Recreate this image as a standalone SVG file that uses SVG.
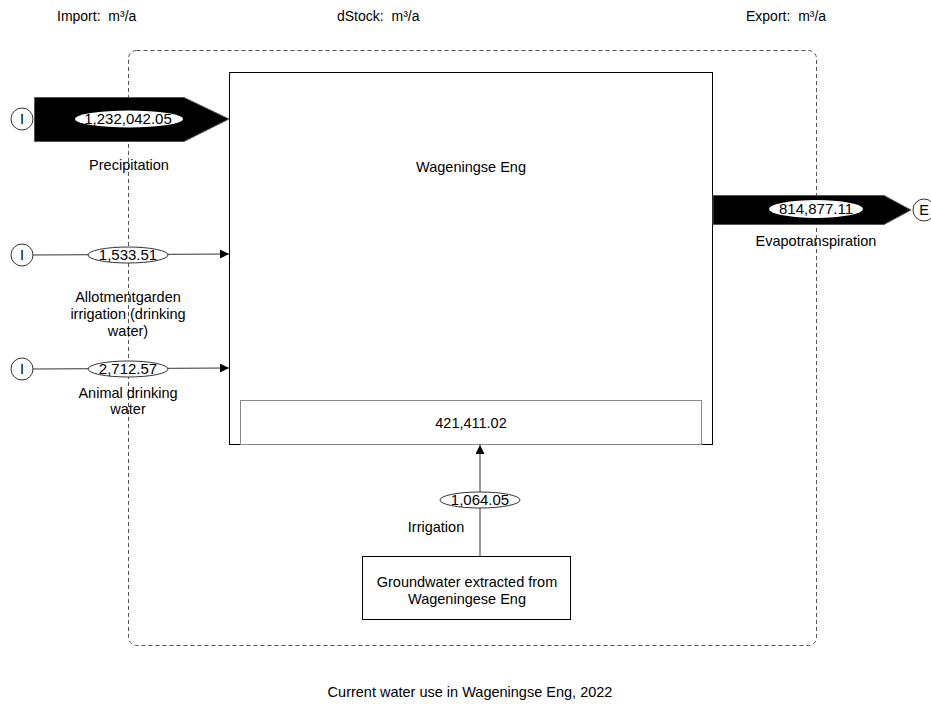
<svg xmlns="http://www.w3.org/2000/svg" width="931" height="707" viewBox="0 0 931 707">
<style>
text{font-family:"Liberation Sans",Arial,sans-serif;font-size:14.5px;fill:#000}
.c{text-anchor:middle}
.h{font-size:14px}
.n{font-size:15px}
.node{fill:#fff;stroke:#000;stroke-width:1}
.src{fill:#fff;stroke:#333;stroke-width:1}
.lbl{fill:#fff;stroke:#333;stroke-width:1}
.ln{stroke:#333;stroke-width:1;fill:none}
.big{fill:#000;stroke:#555;stroke-width:1}
</style>
<defs>
<marker id="ah" viewBox="0 0 10 10" refX="10" refY="5" markerWidth="9" markerHeight="9" markerUnits="userSpaceOnUse" orient="auto">
<path d="M0,0 L10,5 L0,10 z" fill="#000"/>
</marker>
</defs>
<rect width="931" height="707" fill="#fff"/>
<g id="headers">
<text class="h" x="57" y="21">Import:&#160; m³/a</text>
<text class="h" x="337" y="21">dStock:&#160; m³/a</text>
<text class="h" x="746" y="21">Export:&#160; m³/a</text>
</g>
<g id="boundary">
<rect x="128.5" y="50.5" width="688" height="595" rx="8" fill="none" stroke="#555" stroke-dasharray="4 3"/>
</g>
<g id="wageningse-eng">
<rect class="node" x="229.5" y="72.5" width="483" height="372"/>
<text class="c" x="471" y="172">Wageningse Eng</text>
<rect x="240.5" y="400.5" width="461" height="44" fill="#fff" stroke="#888"/>
<text class="c" x="471" y="428">421,411.02</text>
</g>
<g id="groundwater">
<rect class="node" x="362.5" y="556.5" width="208" height="63"/>
<text class="c" x="467" y="587">Groundwater extracted from</text>
<text class="c" x="467" y="604">Wageningese Eng</text>
</g>
<g id="import-nodes">
<circle class="src" cx="22" cy="119" r="11"/><text class="c" x="22" y="124">I</text>
<circle class="src" cx="22" cy="255" r="11"/><text class="c" x="22" y="260">I</text>
<circle class="src" cx="22" cy="369" r="11"/><text class="c" x="22" y="374">I</text>
</g>
<g id="export-node">
<circle class="src" cx="924" cy="210" r="11"/><text class="c" x="924" y="215">E</text>
</g>
<g id="connectors">
<path class="big" d="M34.5,97.5 H184 L229,119 L184,141.5 H34.5 z"/>
<ellipse cx="129" cy="119" rx="54" ry="8.5" fill="#fff"/>
<text class="c n" x="128" y="124">1,232,042.05</text>
<text class="c" x="129" y="170">Precipitation</text>

<path class="big" d="M713,195.5 H884 L911,210 L884,224.5 H713 z"/>
<ellipse cx="816" cy="209" rx="47" ry="9" fill="#fff"/>
<text class="c n" x="816" y="214">814,877.11</text>
<text class="c" x="816" y="246">Evapotranspiration</text>

<line class="ln" x1="33" y1="255" x2="229" y2="254" marker-end="url(#ah)"/>
<ellipse class="lbl" cx="128" cy="255" rx="40" ry="8"/>
<text class="c n" x="128" y="260">1,533.51</text>
<text class="c" x="128" y="302">Allotmentgarden</text>
<text class="c" x="128" y="319">irrigation (drinking</text>
<text class="c" x="128" y="336">water)</text>

<line class="ln" x1="33" y1="369" x2="229" y2="368" marker-end="url(#ah)"/>
<ellipse class="lbl" cx="128" cy="369" rx="40" ry="8"/>
<text class="c n" x="128" y="374">2,712.57</text>
<text class="c" x="128" y="398">Animal drinking</text>
<text class="c" x="128" y="414">water</text>

<line class="ln" x1="480" y1="556" x2="480" y2="445" marker-end="url(#ah)"/>
<ellipse class="lbl" cx="480" cy="500" rx="40" ry="8"/>
<text class="c n" x="480" y="505">1,064.05</text>
<text class="c" x="436" y="532">Irrigation</text>
</g>
<g id="title">
<text class="c" x="470" y="697">Current water use in Wageningse Eng, 2022</text>
</g>
</svg>
